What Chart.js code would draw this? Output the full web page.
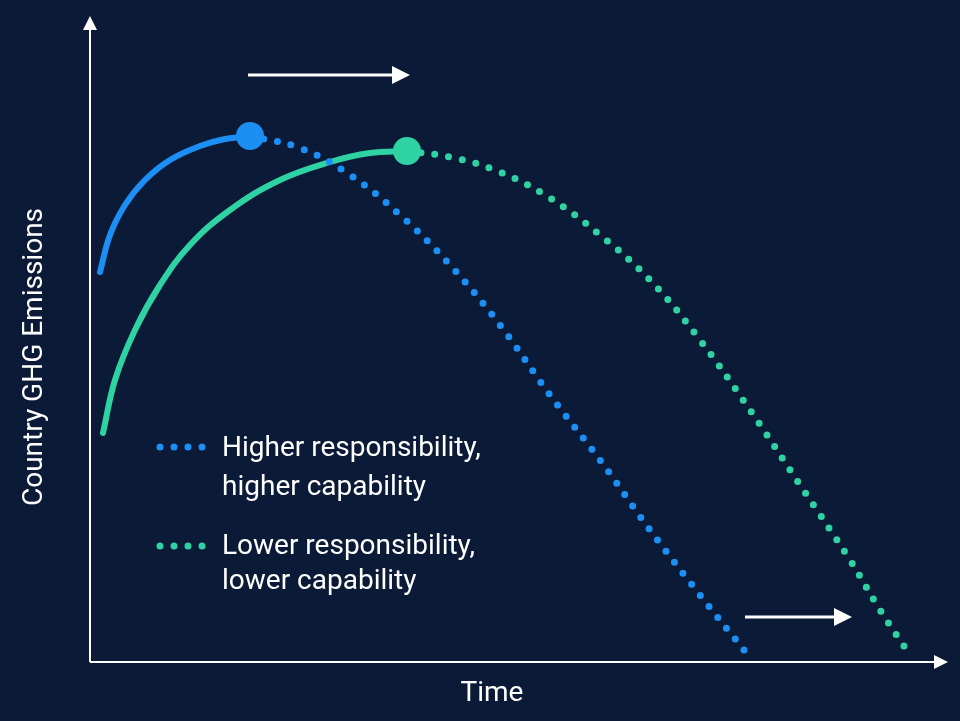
<!DOCTYPE html>
<html><head><meta charset="utf-8">
<script src="https://cdn.jsdelivr.net/npm/chart.js@4"></script>
<style>html,body{margin:0;background:#0b1a36;}#c{display:block;}</style>
</head><body>
<div style="width:960px;height:721px"><canvas id="c"></canvas></div>
<script>
// values in chart units (x: time, y: emissions)
let blueSolidX = [10, 20, 35, 55, 80, 110, 135, 160];
let blueSolidY = [390, 427, 457, 482, 502, 516, 523, 526];
let blueDotX = [160, 210, 260, 310, 360, 410, 460, 510, 560, 610, 658];
let blueDotY = [526, 514, 487, 447, 397, 337, 267, 202, 132, 67, 7];
let greenSolidX = [13, 25, 45, 70, 100, 140, 190, 240, 280, 317];
let greenSolidY = [229, 282, 332, 377, 417, 452, 482, 500, 509, 511];
let greenDotX = [317, 360, 410, 460, 510, 560, 610, 660, 710, 760, 790, 820];
let greenDotY = [511, 505, 490, 464, 427, 382, 322, 252, 177, 102, 52, 7];
let peaks = [[160, 526], [317, 511]];

const BLUE = "#1c8ff5", GREEN = "#2fd3a3";
const FONT = "Roboto, 'Noto Sans', sans-serif";

function pts(xs, ys) { return xs.map((x, i) => ({x: x, y: ys[i]})); }

function line(xs, ys, color, dotted) {
	return {
		data: pts(xs, ys), borderColor: color, borderWidth: dotted ? 7 : 6,
		borderDash: dotted ? [0, 14] : [], borderCapStyle: "round",
		pointRadius: 0, fill: false, tension: 0.4
	};
}

function arrow(ctx, x1, y1, x2, y2, w, head) {
	ctx.strokeStyle = "#fff"; ctx.fillStyle = "#fff"; ctx.lineWidth = w;
	let a = Math.atan2(y2 - y1, x2 - x1);
	ctx.beginPath(); ctx.moveTo(x1, y1);
	ctx.lineTo(x2 - Math.cos(a) * head, y2 - Math.sin(a) * head); ctx.stroke();
	ctx.beginPath(); ctx.moveTo(x2, y2);
	ctx.lineTo(x2 - Math.cos(a) * head - Math.sin(a) * head * 0.5, y2 - Math.sin(a) * head + Math.cos(a) * head * 0.5);
	ctx.lineTo(x2 - Math.cos(a) * head + Math.sin(a) * head * 0.5, y2 - Math.sin(a) * head - Math.cos(a) * head * 0.5);
	ctx.closePath(); ctx.fill();
}

const decor = {
	id: "decor",
	beforeDraw(chart) {
		let ctx = chart.ctx;
		ctx.save();
		ctx.fillStyle = "#0b1a36"; ctx.fillRect(0, 0, chart.width, chart.height);
		let xs = chart.scales.x, ys = chart.scales.y;
		let ox = xs.getPixelForValue(0), oy = ys.getPixelForValue(0);
		arrow(ctx, ox, oy, ox, 16, 2, 14);
		arrow(ctx, ox, oy, 948, oy, 2, 14);
		arrow(ctx, 248, 75, 410, 75, 3, 18);
		arrow(ctx, 745, 617, 852, 617, 3, 18);
		ctx.restore();
	},
	afterDraw(chart) {
		let ctx = chart.ctx;
		ctx.save();
		ctx.fillStyle = "#fff"; ctx.font = "28px " + FONT;
		ctx.textBaseline = "middle";
		ctx.fillText("Higher responsibility,", 222, 449);
		ctx.fillText("higher capability", 222, 488);
		ctx.fillText("Lower responsibility,", 222, 547);
		ctx.fillText("lower capability", 222, 582);
		ctx.textAlign = "center";
		ctx.fillText("Time", 492, 694);
		ctx.translate(35, 357); ctx.rotate(-Math.PI / 2);
		ctx.fillText("Country GHG Emissions", 0, 0);
		ctx.restore();
		ctx.save();
		ctx.lineWidth = 7; ctx.lineCap = "round"; ctx.setLineDash([0, 14]);
		[[447, BLUE], [546, GREEN]].forEach(([y, c]) => {
			ctx.strokeStyle = c; ctx.beginPath(); ctx.moveTo(160, y); ctx.lineTo(210, y); ctx.stroke();
		});
		ctx.restore();
	}
};

new Chart(document.getElementById("c"), {
	type: "line",
	data: {
		datasets: [
			line(blueDotX, blueDotY, BLUE, true),
			line(greenDotX, greenDotY, GREEN, true),
			line(blueSolidX, blueSolidY, BLUE, false),
			line(greenSolidX, greenSolidY, GREEN, false),
			{data: [{x: peaks[0][0], y: peaks[0][1]}], pointRadius: 14, pointBackgroundColor: BLUE, pointBorderWidth: 0, showLine: false},
			{data: [{x: peaks[1][0], y: peaks[1][1]}], pointRadius: 14, pointBackgroundColor: GREEN, pointBorderWidth: 0, showLine: false}
		]
	},
	options: {
		responsive: true, maintainAspectRatio: false, animation: false,
		layout: {padding: {left: 90, right: 15, top: 18, bottom: 59}},
		plugins: {legend: {display: false}, tooltip: {enabled: false}},
		scales: {
			x: {type: "linear", min: 0, max: 855, display: false},
			y: {min: 0, max: 644, display: false}
		}
	},
	plugins: [decor]
});
</script>
</body></html>
